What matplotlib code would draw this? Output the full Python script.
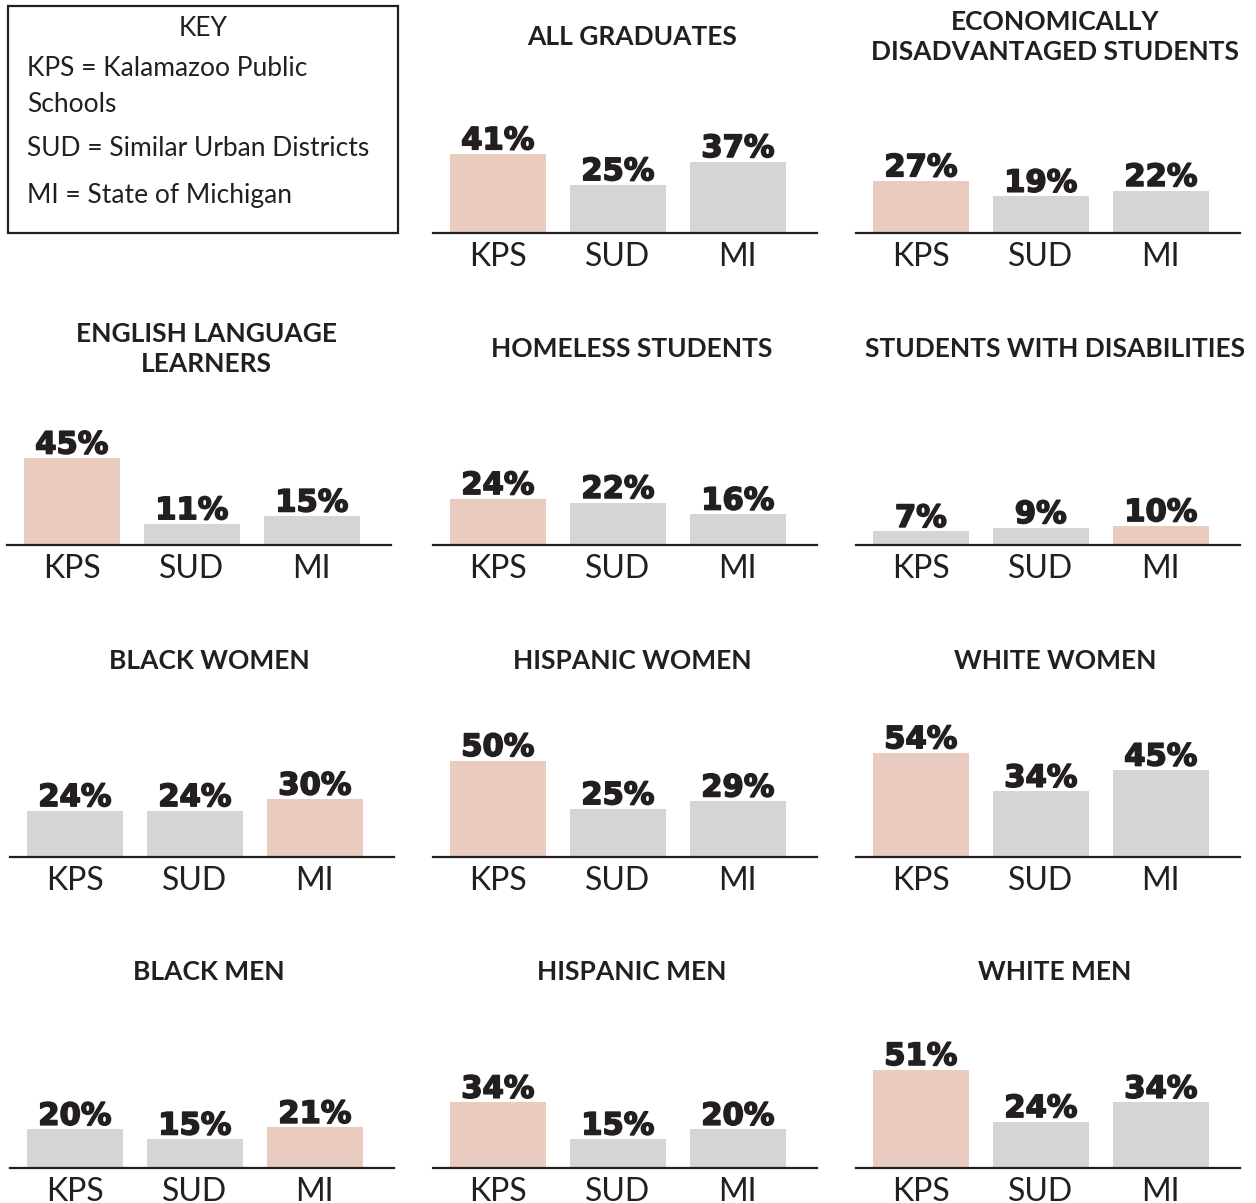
import matplotlib.pyplot as plt
import matplotlib.patheffects as pe
from matplotlib.patches import Rectangle

plt.rcParams["font.family"] = ["Lato", "DejaVu Sans"]

categories = ["KPS", "SUD", "MI"]
titles = [
    "ALL GRADUATES",
    "ECONOMICALLY\nDISADVANTAGED STUDENTS",
    "ENGLISH LANGUAGE\nLEARNERS",
    "HOMELESS STUDENTS",
    "STUDENTS WITH DISABILITIES",
    "BLACK WOMEN",
    "HISPANIC WOMEN",
    "WHITE WOMEN",
    "BLACK MEN",
    "HISPANIC MEN",
    "WHITE MEN",
]
kps = [41, 27, 45, 24, 7, 24, 50, 54, 20, 34, 51]
sud = [25, 19, 11, 22, 9, 24, 25, 34, 15, 15, 24]
mi = [37, 22, 15, 16, 10, 30, 29, 45, 21, 20, 34]

key_title = "KEY"
key_lines = ["KPS = Kalamazoo Public\nSchools", "SUD = Similar Urban Districts", "MI = State of Michigan"]

HIGHLIGHT = "#e9cbbf"
GREY = "#d4d5d7"
DARK = "#231f20"

W, H = 1256, 1203
fig = plt.figure(figsize=(W / 100, H / 100), dpi=100)
fig.patch.set_facecolor("white")

# pixel layout of the small multiples
col_left = {0: [None, 7, 10, 10], 1: [433] * 4, 2: [856] * 4}
baselines = [233, 545, 857, 1168]
ax_w = 384
ax_h = 130
px_per_pct = 1.93

cells = [(r, c) for r in range(4) for c in range(3) if not (r == 0 and c == 0)]

for i, (r, c) in enumerate(cells):
    left = col_left[c][r]
    base = baselines[r]
    ax = fig.add_axes([left / W, (H - base) / H, ax_w / W, ax_h / H])
    vals = [kps[i], sud[i], mi[i]]
    top = max(vals)
    colors = [HIGHLIGHT if v == top else GREY for v in vals]
    xs = range(len(categories))
    ax.bar(xs, vals, width=0.8, color=colors, zorder=1)
    for x, v in zip(xs, vals):
        ax.annotate(f"{v}%", (x, v), xytext=(0, -1), textcoords="offset points",
                    ha="center", va="bottom", fontsize=22, fontweight="bold",
                    family="DejaVu Sans", color=DARK,
                    path_effects=[pe.withStroke(linewidth=1.2, foreground=DARK)])
    ax.set_xlim(-0.54, 2.66)
    ax.set_ylim(0, ax_h / px_per_pct)
    ax.set_xticks(list(xs))
    ax.set_xticklabels(categories, fontsize=23, color=DARK)
    ax.tick_params(axis="x", length=0, pad=6.5)
    ax.set_yticks([])
    for s in ["top", "left", "right"]:
        ax.spines[s].set_visible(False)
    ax.spines["bottom"].set_linewidth(1.6)
    ax.spines["bottom"].set_color(DARK)
    ax.spines["bottom"].set_zorder(3)
    ax.patch.set_alpha(0)

    fig.text((left + ax_w / 2 + 7) / W, 1 - (base - 196) / H, titles[i],
             ha="center", va="center", fontsize=19, fontweight="bold",
             color=DARK, linespacing=1.25)

# key box
fig.add_artist(Rectangle((8 / W, 1 - 233 / H), 390 / W, 227 / H,
                         transform=fig.transFigure, fill=False,
                         edgecolor=DARK, linewidth=1.6))
fig.text(203 / W, 1 - 28 / H, key_title, ha="center", va="center", fontsize=19, color=DARK)
fig.text(27 / W, 1 - 86 / H, key_lines[0], ha="left", va="center", fontsize=19,
         color=DARK, linespacing=1.55)
fig.text(27 / W, 1 - 148 / H, key_lines[1], ha="left", va="center", fontsize=19, color=DARK)
fig.text(27 / W, 1 - 195 / H, key_lines[2], ha="left", va="center", fontsize=19, color=DARK)

fig.savefig("out.png", dpi=100, facecolor="white")
